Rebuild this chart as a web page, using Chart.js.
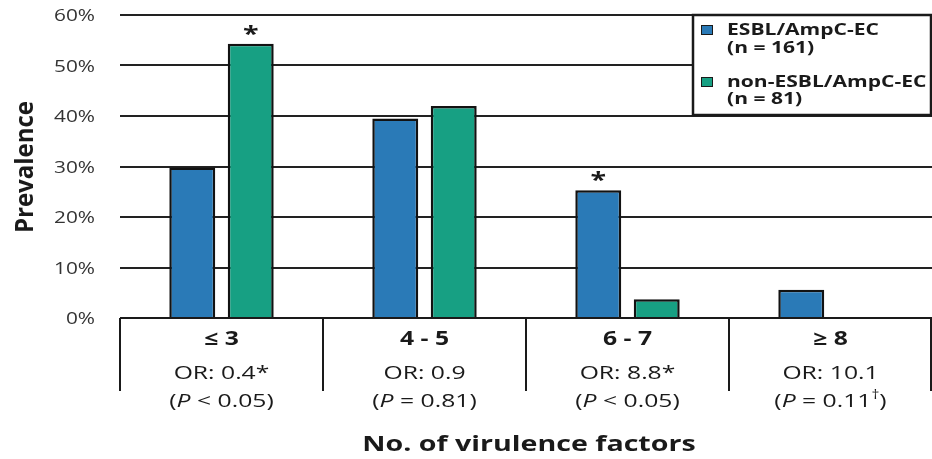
<!DOCTYPE html>
<html>
<head>
<meta charset="utf-8">
<script src="https://cdn.jsdelivr.net/npm/chart.js@4/dist/chart.umd.min.js"></script>
<style>
  html, body { margin: 0; padding: 0; background: #fff; }
  canvas { display: block; }
</style>
</head>
<body>
<canvas id="chart" width="932" height="459"></canvas>
<script>
// Number of virulence factors per isolate group
const categories = ['≤ 3', '4 - 5', '6 - 7', '≥ 8'];
const esblValues = [29.8, 39.5, 25.3, 5.6];
const nonEsblValues = [54.3, 42.0, 3.7, null];
const seriesLabels = [['ESBL/AmpC-EC', '(n = 161)'], ['non-ESBL/AmpC-EC', '(n = 81)']];
const oddsRatios = ['OR: 0.4*', 'OR: 0.9', 'OR: 8.8*', 'OR: 10.1'];
// P-value rows: comparison sign, value, optional superscript mark
const pValues = [['<', '0.05', ''], ['=', '0.81', ''], ['<', '0.05', ''], ['=', '0.11', '†']];
// Significant differences: [dataset index, category index]
const significant = [[1, 0], [0, 2]];
const yTicks = [0, 10, 20, 30, 40, 50, 60];

const FONT = '"Open Sans", "DejaVu Sans", sans-serif';
const SX = 1.3;          // horizontal stretch used for all text
const INK = '#1a1a1a';

function stretchedText(ctx, s, x, y, font, align, color) {
  ctx.save();
  ctx.font = font;
  ctx.fillStyle = color || INK;
  ctx.textAlign = align || 'left';
  ctx.textBaseline = 'alphabetic';
  ctx.translate(x, y);
  ctx.scale(SX, 1);
  ctx.fillText(s, 0, 0);
  ctx.restore();
}
function widthOf(ctx, s, font) {
  ctx.save();
  ctx.font = font;
  const w = ctx.measureText(s).width * SX;
  ctx.restore();
  return w;
}

const decorations = {
  id: 'decorations',
  afterDraw(chart) {
    const ctx = chart.ctx;
    const xs = chart.scales.x;
    const ys = chart.scales.y;
    const area = chart.chartArea;
    const y0 = ys.getPixelForValue(0);

    // y tick labels
    yTicks.forEach(v => {
      stretchedText(ctx, v + '%', 95, ys.getPixelForValue(v) + 6, '16px ' + FONT, 'right', '#333');
    });

    // y title
    ctx.save();
    ctx.translate(33, 167);
    ctx.scale(SX * 0.78, 1);
    ctx.rotate(-Math.PI / 2);
    ctx.font = 'bold 24px ' + FONT;
    ctx.fillStyle = INK;
    ctx.textAlign = 'center';
    ctx.fillText('Prevalence', 0, 0);
    ctx.restore();

    // category table below the axis
    ctx.save();
    ctx.strokeStyle = INK;
    ctx.lineWidth = 2;
    ctx.beginPath();
    ctx.moveTo(area.left, y0);
    ctx.lineTo(area.right, y0);
    const step = (xs.right - xs.left) / categories.length;
    for (let k = 0; k <= categories.length; k++) {
      let x = Math.round(xs.left + k * step);
      if (k === categories.length) x -= 1;
      ctx.moveTo(x, y0);
      ctx.lineTo(x, y0 + 73);
    }
    ctx.stroke();
    ctx.restore();

    categories.forEach((c, i) => {
      const cx = xs.getPixelForValue(i);
      stretchedText(ctx, c, cx, 345, 'bold 19px ' + FONT, 'center');
      stretchedText(ctx, oddsRatios[i], cx, 378.5, '19px ' + FONT, 'center');
      // "(P < 0.05)" with italic P
      const reg = '19px ' + FONT, ital = 'italic 19px ' + FONT, sup = '12px ' + FONT;
      const p = pValues[i];
      const parts = [
        ['(', reg, 0], ['P', ital, 0], [' ' + p[0] + ' ' + p[1], reg, 0]
      ];
      if (p[2]) parts.push([p[2], sup, -8]);
      parts.push([')', reg, 0]);
      const total = parts.reduce((a, q) => a + widthOf(ctx, q[0], q[1]), 0);
      let x = cx - total / 2;
      parts.forEach(q => {
        stretchedText(ctx, q[0], x, 406.5 + q[2], q[1], 'left');
        x += widthOf(ctx, q[0], q[1]);
      });
    });

    // x title
    stretchedText(ctx, 'No. of virulence factors', 529, 451, 'bold 22px ' + FONT, 'center');

    // significance asterisks
    significant.forEach(([d, i]) => {
      const bar = chart.getDatasetMeta(d).data[i];
      stretchedText(ctx, '*', bar.x, bar.y - 3, 'bold 22px ' + FONT, 'center');
    });

    // legend box
    ctx.save();
    ctx.fillStyle = '#fff';
    ctx.fillRect(693, 15, 238, 100);
    ctx.strokeStyle = INK;
    ctx.lineWidth = 2.5;
    ctx.strokeRect(693, 15, 238, 100);
    ctx.restore();
    const rows = [[25.5, 35, 53], [77.5, 86.5, 103.5]];
    const legendFont = 'bold 16.2px ' + FONT;
    chart.data.datasets.forEach((ds, d) => {
      const r = rows[d];
      ctx.save();
      ctx.fillStyle = ds.backgroundColor;
      ctx.fillRect(701.5, r[0], 11, 9);
      ctx.strokeStyle = INK;
      ctx.lineWidth = 1;
      ctx.strokeRect(701.5, r[0], 11, 9);
      ctx.restore();
      stretchedText(ctx, seriesLabels[d][0], 727, r[1], legendFont, 'left');
      stretchedText(ctx, seriesLabels[d][1], 727, r[2], legendFont, 'left');
    });
  }
};

new Chart(document.getElementById('chart'), {
  type: 'bar',
  data: {
    labels: categories,
    datasets: [
      { label: seriesLabels[0].join(' '), data: esblValues, backgroundColor: '#2a7ab7', borderColor: '#121212', borderWidth: 2.5 },
      { label: seriesLabels[1].join(' '), data: nonEsblValues, backgroundColor: '#17a083', borderColor: '#121212', borderWidth: 2.5 }
    ]
  },
  options: {
    responsive: false,
    animation: false,
    devicePixelRatio: 1,
    categoryPercentage: 0.576,
    barPercentage: 0.786,
    layout: { padding: { top: 15, right: 0, left: 0, bottom: 0 } },
    plugins: { legend: { display: false }, tooltip: { enabled: false } },
    scales: {
      x: {
        grid: { display: false },
        border: { display: false },
        ticks: { display: false },
        afterFit(scale) { scale.height = 141; }
      },
      y: {
        min: 0,
        max: 60,
        ticks: { display: false, stepSize: 10 },
        grid: { color: '#222', lineWidth: 2, drawTicks: false },
        border: { display: false },
        afterFit(scale) { scale.width = 120; }
      }
    }
  },
  plugins: [decorations]
});
</script>
</body>
</html>
